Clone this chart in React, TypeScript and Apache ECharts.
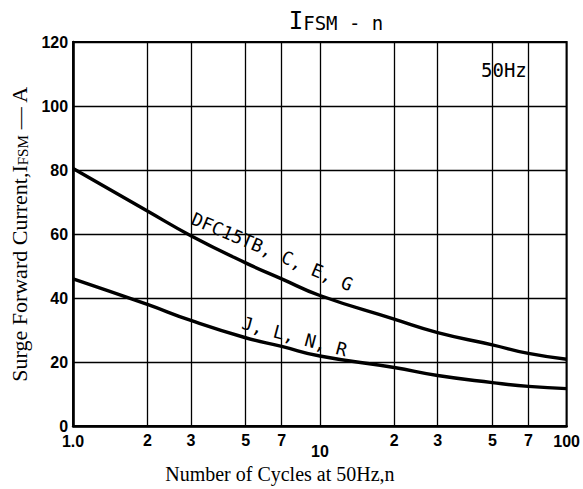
import React, { useEffect, useRef } from "react";
import * as echarts from "echarts";

const cycles = [1, 2, 3, 5, 7, 10, 20, 30, 50, 70, 100];
const upperCurrent = [80.5, 67.2, 59.5, 51, 46, 40.8, 33.4, 29.2, 25.4, 22.7, 20.9];
const lowerCurrent = [46, 38, 33, 27.6, 24.9, 21.9, 18.3, 15.8, 13.6, 12.4, 11.7];
const minorGridCycles = [2, 3, 5, 7, 20, 30, 50, 70];
const minorGridLabels = ["2", "3", "5", "7", "2", "3", "5", "7"];
const majorTickLabels: Record<number, string> = { 1: "1.0", 10: "10", 100: "100" };
const yMin = 0;
const yMax = 120;
const yInterval = 20;
const upperLabel = "DFC15TB, C, E, G";
const lowerLabel = "J, L, N, R";
const freqNote = "50Hz";

export default function App() {
  const ref = useRef<HTMLDivElement>(null);
  useEffect(() => {
    if (!ref.current) return;
    const chart = echarts.init(ref.current, null, { renderer: "svg" });
    const mono = "DejaVu Sans Mono";
    const serif = "Liberation Serif";
    const sans = "Liberation Sans";
    const deg = Math.PI / 180;
    chart.setOption({
      animation: false,
      backgroundColor: "#fff",
      title: {
        text: "{big|I}{small|FSM - n}",
        left: 331,
        top: 4,
        textAlign: "center",
        textStyle: {
          fontWeight: "normal",
          rich: {
            big: { fontFamily: mono, fontSize: 24, fontWeight: "normal", color: "#000", verticalAlign: "bottom" },
            small: { fontFamily: mono, fontSize: 19, fontWeight: "normal", color: "#000", verticalAlign: "bottom", padding: [0, 0, 1, 0] },
          },
        },
      },
      grid: {
        left: 73,
        right: 16,
        top: 42,
        bottom: 47,
        show: true,
        borderColor: "#000",
        borderWidth: 2,
      },
      xAxis: {
        type: "log",
        logBase: 10,
        min: 1,
        max: 100,
        name: "Number of Cycles at 50Hz,n",
        nameLocation: "middle",
        nameGap: 20,
        nameTextStyle: {
          fontFamily: serif,
          fontSize: 20,
          color: "#000",
          padding: [0, 80, 0, 0],
        },
        axisLine: { show: true, lineStyle: { color: "#000", width: 2.5 } },
        axisTick: { show: false },
        splitLine: { show: true, lineStyle: { color: "#000", width: 1.3 } },
        axisLabel: {
          margin: 7,
          color: "#000",
          fontFamily: sans,
          fontWeight: "bold",
          fontSize: 16,
          formatter: (v: number) => {
            const r = Math.round(v);
            if (r === 10) return "{lo|10}";
            return majorTickLabels[r] ?? "";
          },
          rich: {
            lo: { fontFamily: sans, fontWeight: "bold", fontSize: 16, color: "#000", padding: [10, 0, 0, 0] },
          },
        },
      },
      yAxis: {
        type: "value",
        min: yMin,
        max: yMax,
        interval: yInterval,
        name: "Surge Forward Current,I{sub|FSM} — A",
        nameLocation: "middle",
        nameRotate: 90,
        nameGap: 36,
        nameTextStyle: {
          fontFamily: serif,
          fontSize: 22,
          color: "#000",
          rich: {
            sub: { fontFamily: serif, fontSize: 15, color: "#000", verticalAlign: "bottom", padding: [8, 0, 0, 0] },
          },
        },
        axisLine: { show: true, lineStyle: { color: "#000", width: 2.5 } },
        axisTick: { show: false },
        splitLine: { show: true, lineStyle: { color: "#000", width: 1.3 } },
        axisLabel: {
          margin: 5,
          color: "#000",
          fontFamily: sans,
          fontWeight: "bold",
          fontSize: 16,
        },
      },
      series: [
        {
          type: "line",
          data: cycles.map((c, i) => [c, upperCurrent[i]]),
          smooth: 0.5,
          symbol: "none",
          lineStyle: { color: "#000", width: 3.4 },
          markLine: {
            silent: true,
            symbol: "none",
            animation: false,
            lineStyle: { color: "#000", width: 1.3, type: "solid" },
            label: {
              show: true,
              position: "start",
              distance: 6,
              formatter: "{b}",
              color: "#000",
              fontFamily: sans,
              fontWeight: "bold",
              fontSize: 16,
            },
            data: minorGridCycles.map((c, i) => ({ xAxis: c, name: minorGridLabels[i] })),
          },
        },
        {
          type: "line",
          data: cycles.map((c, i) => [c, lowerCurrent[i]]),
          smooth: 0.5,
          symbol: "none",
          lineStyle: { color: "#000", width: 3.4 },
        },
      ],
      graphic: [
        {
          type: "text",
          x: 481,
          y: 79,
          style: { text: freqNote, fontFamily: mono, fontSize: 19, fill: "#000", textAlign: "left", textVerticalAlign: "bottom" },
        },
        {
          type: "text",
          x: 189,
          y: 226,
          rotation: -23 * deg,
          style: { text: upperLabel, fontFamily: mono, fontSize: 18, fill: "#000", textAlign: "left", textVerticalAlign: "bottom" },
        },
        {
          type: "text",
          x: 240,
          y: 331,
          rotation: -15 * deg,
          style: { text: lowerLabel, fontFamily: mono, fontSize: 18, fill: "#000", textAlign: "left", textVerticalAlign: "bottom" },
        },
      ],
    });
    return () => chart.dispose();
  }, []);
  return <div ref={ref} style={{ position: "fixed", left: 0, top: 0, width: 583, height: 489 }} />;
}
